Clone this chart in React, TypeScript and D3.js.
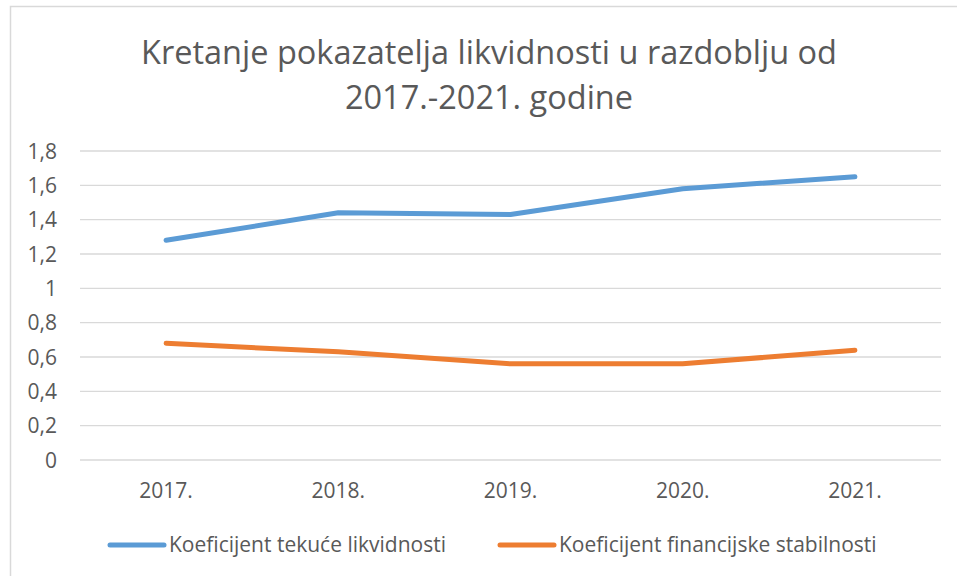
import React from "react";
import * as d3 from "d3";

const years = ["2017.", "2018.", "2019.", "2020.", "2021."];
const tekuca = [1.28, 1.44, 1.43, 1.58, 1.65];
const financijska = [0.68, 0.63, 0.56, 0.56, 0.64];
const yTicks = [0, 0.2, 0.4, 0.6, 0.8, 1, 1.2, 1.4, 1.6, 1.8];
const seriesNames = ["Koeficijent tekuće likvidnosti", "Koeficijent financijske stabilnosti"];
const seriesColors = ["#5B9BD5", "#ED7D31"];

const W = 957;
const H = 576;
const font = "'Open Sans', sans-serif";
const textColor = "#595959";

const App = () => {
    const x = d3.scaleBand().domain(years).range([80, 941]);
    const y = d3.scaleLinear().domain([0, 1.8]).range([460, 151]);
    const line = d3
        .line<number>()
        .x((d, i) => x(years[i])! + x.bandwidth() / 2)
        .y(d => y(d));
    const fmt = (v: number) => String(v).replace(".", ",");
    const series = [tekuca, financijska];

    return (
        <div style={{ position: "fixed", left: 0, top: 0 }}>
            <svg width={W} height={H} style={{ display: "block" }}>
                <rect x={0} y={0} width={W} height={H} fill="#fff" />
                <rect x={10.5} y={6.5} width={970} height={600} fill="#fff" stroke="#D9D9D9" strokeWidth={1.5} />
                <text x={489} y={64} textAnchor="middle" fontFamily={font} fontSize={32.5} fill={textColor}>
                    Kretanje pokazatelja likvidnosti u razdoblju od
                </text>
                <text x={489} y={109} textAnchor="middle" fontFamily={font} fontSize={32.5} fill={textColor}>
                    2017.-2021. godine
                </text>
                {yTicks.map(t => (
                    <g key={t}>
                        <line x1={80} x2={941} y1={y(t)} y2={y(t)} stroke="#D9D9D9" strokeWidth={1.3} />
                        <text x={57} y={y(t) + 7.5} textAnchor="end" fontFamily={font} fontSize={21} fill={textColor}>
                            {fmt(t)}
                        </text>
                    </g>
                ))}
                {years.map(yr => (
                    <text key={yr} x={x(yr)! + x.bandwidth() / 2} y={498} textAnchor="middle" fontFamily={font} fontSize={21} fill={textColor}>
                        {yr}
                    </text>
                ))}
                {series.map((s, i) => (
                    <path key={i} d={line(s)!} fill="none" stroke={seriesColors[i]} strokeWidth={5} strokeLinecap="round" strokeLinejoin="round" />
                ))}
                {[110, 500].map((lx, i) => (
                    <g key={i}>
                        <line x1={lx} x2={lx + 54} y1={545} y2={545} stroke={seriesColors[i]} strokeWidth={5} strokeLinecap="round" />
                        <text x={lx + 59} y={552} fontFamily={font} fontSize={21} fill={textColor}>
                            {seriesNames[i]}
                        </text>
                    </g>
                ))}
            </svg>
        </div>
    );
};

export default App;
